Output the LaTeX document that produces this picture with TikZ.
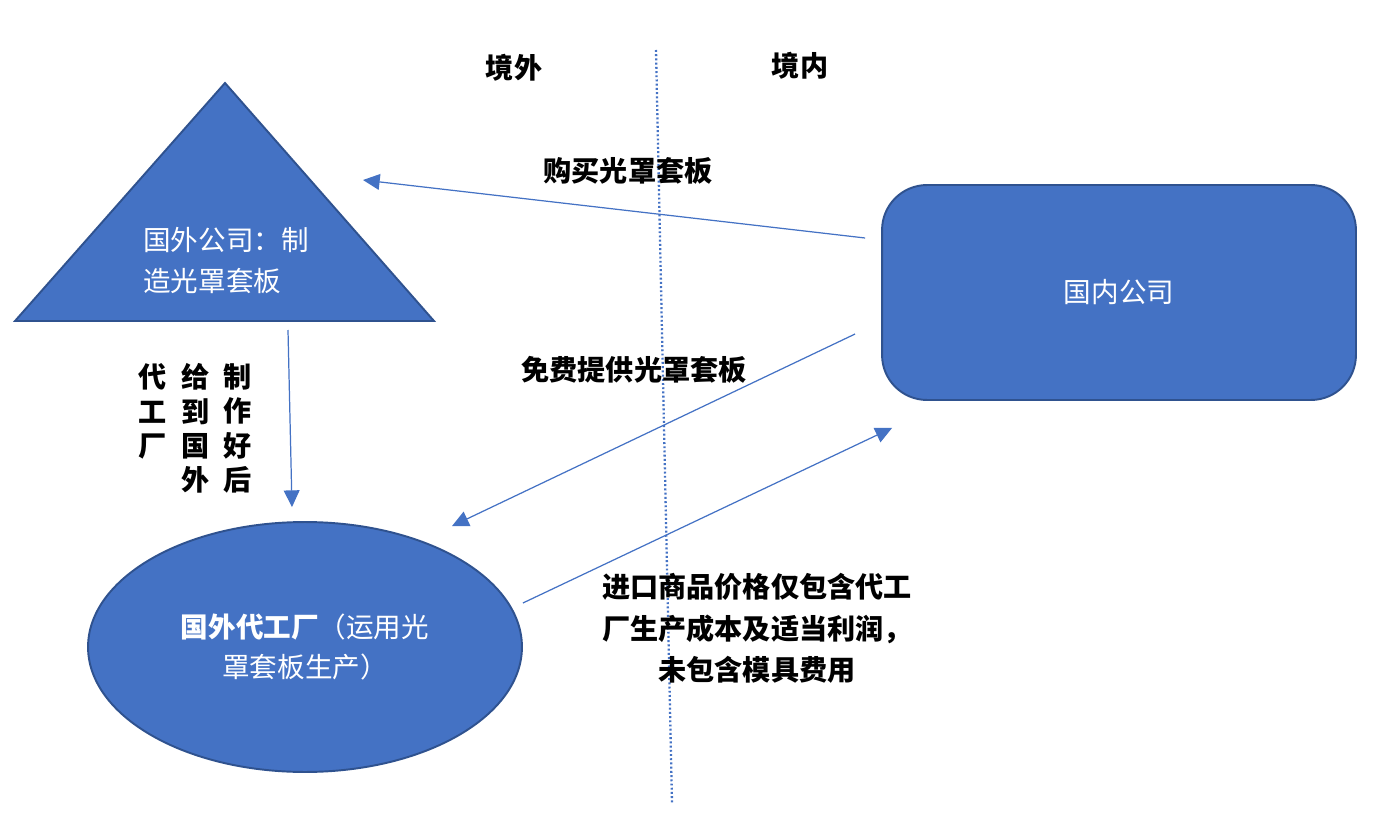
\documentclass[tikz,border=0pt]{standalone}
\usepackage{fontspec}
\setmainfont{Noto Sans CJK SC}
\usepackage{tikz}
\usetikzlibrary{arrows.meta,calc,shapes.geometric}

\begin{document}
\begin{tikzpicture}[x=0.02cm,y=-0.02cm,
    flow/.style={draw=boxcolor, line width=0.7pt, -{Triangle[length=9.5pt,width=9pt]}},
    shapetext/.style={text=white, inner sep=0pt, font=\fontsize{15.7}{23}\selectfont},
    lbl/.style={inner sep=0pt, font=\fontsize{16}{23.5}\selectfont\bfseries}]
            \definecolor{boxcolor}{RGB}{68,114,196}
            \definecolor{bordercolor}{RGB}{47,82,143}
            \useasboundingbox (0,0) rectangle (1373,828);

            % Confine
            \coordinate (bordertop) at (656,50);
            \coordinate (borderbot) at (672,803);
            \draw[boxcolor, line width=1.3pt, dash pattern=on 1.1pt off 1.3pt] (bordertop) -- (borderbot);
            \node[lbl] (abroad) at (514,68) {境外};
            \node[lbl] (domestic) at (800,66) {境内};

            % Societa estera
            \coordinate (triapex) at (225,83);
            \coordinate (triright) at (434,321);
            \coordinate (trileft) at (15,321);
            \fill[boxcolor, draw=bordercolor, line width=1.1pt] (triapex) -- (triright) -- (trileft) -- cycle;
            \node[shapetext, align=left, anchor=west] (foreign) at (143,260.5) {国外公司：制\\造光罩套板};

            % Societa nazionale
            \node[shapetext, fill=boxcolor, draw=bordercolor, line width=1.1pt, rounded corners=0.9cm,
                  minimum width=9.48cm, minimum height=4.3cm] (local) at (1119,292.5) {国内公司};

            % Fabbrica OEM
            \node[shapetext, ellipse, fill=boxcolor, draw=bordercolor, line width=1.1pt, align=center,
                  minimum width=8.68cm, minimum height=5cm] (oem) at (305,647)
                  {\textbf{国外代工厂}（运用光\\罩套板生产）};

            % Flussi
            \coordinate (buyend) at ($(triapex)+(138,97)$);
            \coordinate (makestart) at (288,330);
            \draw[flow] ($(local.west)+(-16,-54.5)$) -- (buyend);
            \draw[flow] ($(local.west)+(-26,41.5)$) -- ($(oem.north)+(147,5)$);
            \draw[flow] ($(oem.east)+(0,-44)$) -- ($(local.south west)+(11,27)$);
            \draw[flow] (makestart) -- ($(oem.north)+(-13,-14)$);

            \node[lbl] (buy) at (628,171) {购买光罩套板};
            \node[lbl] (free) at (634,370) {免费提供光罩套板};
            \node[lbl, align=center] (price) at (757,628.5) {进口商品价格仅包含代工\\厂生产成本及适当利润，\\未包含模具费用};
            \node[lbl, align=center, font=\fontsize{16}{19.5}\selectfont\bfseries] (col1) at (238,428.5) {制\\作\\好\\后};
            \node[lbl, align=center, font=\fontsize{16}{19.5}\selectfont\bfseries] (col2) at (196,428.5) {给\\到\\国\\外};
            \node[lbl, align=center, font=\fontsize{16}{19.5}\selectfont\bfseries] (col3) at (153,411.5) {代\\工\\厂};
        \end{tikzpicture}
\end{document}
